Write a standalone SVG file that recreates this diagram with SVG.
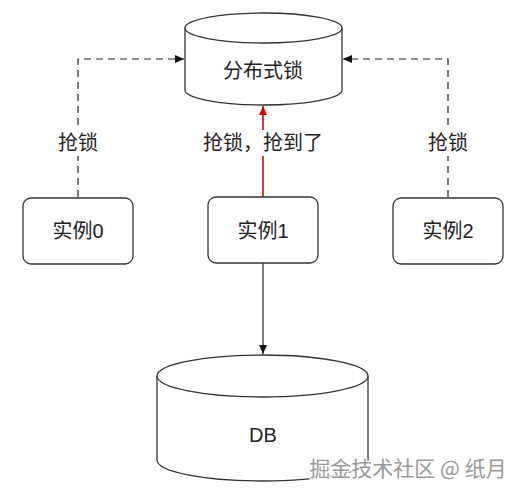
<svg xmlns="http://www.w3.org/2000/svg" width="525" height="494" viewBox="0 0 525 494">
<style>
.shape{fill:#fff;stroke:#333;stroke-width:1.3}
.t{font-family:"Liberation Sans","Noto Sans CJK SC",sans-serif;font-size:20px;fill:#222;text-anchor:middle}
.dash{fill:none;stroke:#222;stroke-width:1.2;stroke-dasharray:7,5}
.lbl{fill:#fff}
</style>
<defs>
<marker id="ab" markerWidth="10" markerHeight="10" refX="9" refY="5" orient="auto" markerUnits="userSpaceOnUse"><path d="M0,1 L9,5 L0,9 Z" fill="#111"/></marker>
<marker id="ar" markerWidth="10" markerHeight="10" refX="9" refY="5" orient="auto" markerUnits="userSpaceOnUse"><path d="M0,1 L9,5 L0,9 Z" fill="#d00"/></marker>
</defs>
<rect width="525" height="494" fill="#fff"/>
<g id="connectors">
<path class="dash" d="M78,197 V59 H184" marker-end="url(#ab)"/>
<path class="dash" d="M448,197 V59 H343" marker-end="url(#ab)"/>
<line x1="263" y1="197" x2="263" y2="106" stroke="#d00" stroke-width="1.6" marker-end="url(#ar)"/>
<line x1="263" y1="263" x2="263" y2="354" stroke="#222" stroke-width="1.2" marker-end="url(#ab)"/>
<rect class="lbl" x="54" y="130" width="48" height="26"/>
<text class="t" x="78" y="150">抢锁</text>
<rect class="lbl" x="424" y="130" width="48" height="26"/>
<text class="t" x="448" y="150">抢锁</text>
<rect class="lbl" x="196" y="130" width="134" height="26"/>
<text class="t" x="263" y="150">抢锁，抢到了</text>
</g>
<g id="lock">
<path class="shape" d="M185,28 A78.5,15 0 0 1 342,28 V90 A78.5,15 0 0 1 185,90 Z"/>
<path class="shape" fill="none" d="M185,28 A78.5,15 0 0 0 342,28"/>
<text class="t" x="263" y="78">分布式锁</text>
</g>
<g id="inst0">
<rect class="shape" x="23" y="198" width="110" height="66" rx="8"/>
<text class="t" x="78" y="238">实例0</text>
</g>
<g id="inst1">
<rect class="shape" x="208" y="197" width="110" height="66" rx="8"/>
<text class="t" x="263" y="238">实例1</text>
</g>
<g id="inst2">
<rect class="shape" x="393" y="198" width="110" height="66" rx="8"/>
<text class="t" x="448" y="238">实例2</text>
</g>
<g id="db">
<path class="shape" d="M157,376 A105.5,21 0 0 1 368,376 V460 A105.5,21 0 0 1 157,460 Z"/>
<path class="shape" fill="none" d="M157,376 A105.5,21 0 0 0 368,376"/>
<text class="t" x="263" y="442">DB</text>
</g>
<text x="408" y="476" style="font-family:'Noto Sans CJK SC',sans-serif;font-size:21px;fill:#999;stroke:#fff;stroke-width:2.5;paint-order:stroke;text-anchor:middle">掘金技术社区 @ 纸月</text>
</svg>
